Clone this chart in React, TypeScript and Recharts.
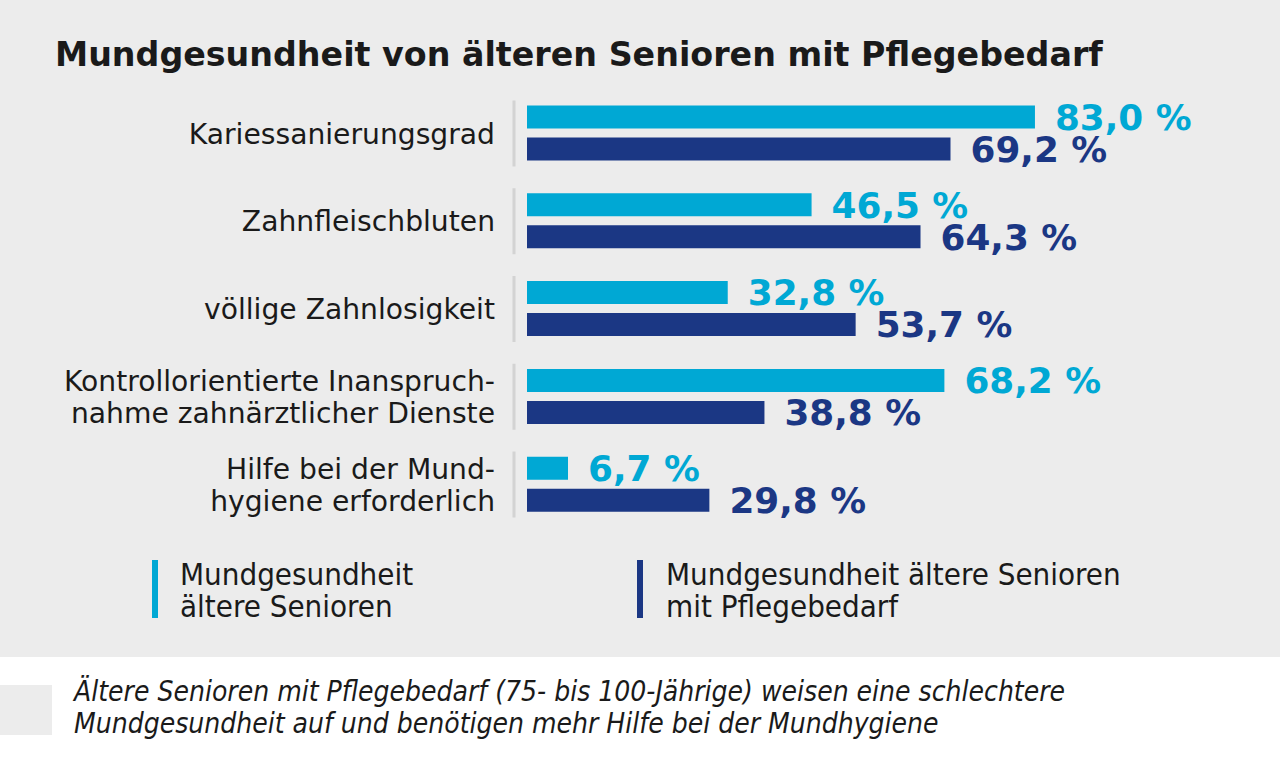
import React from 'react';
import { BarChart, Bar, XAxis, YAxis, LabelList } from 'recharts';

const categories: string[][] = [
    ['Kariessanierungsgrad'],
    ['Zahnfleischbluten'],
    ['völlige Zahnlosigkeit'],
    ['Kontrollorientierte Inanspruch-', 'nahme zahnärztlicher Dienste'],
    ['Hilfe bei der Mund-', 'hygiene erforderlich'],
];
const seniorValues = [83.0, 46.5, 32.8, 68.2, 6.7];
const careValues = [69.2, 64.3, 53.7, 38.8, 29.8];
const seriesNames = ['Mundgesundheit\nältere Senioren', 'Mundgesundheit ältere Senioren\nmit Pflegebedarf'];

const LIGHT = '#00a8d4';
const DARK = '#1b3784';
const FONT = '"DejaVu Sans", Verdana, sans-serif';
const COND = '"DejaVu Sans Condensed", "DejaVu Sans", sans-serif';

const data = categories.map((c, i) => ({
    key: String(i),
    senior: seniorValues[i],
    care: careValues[i],
}));

const fmt = (v: any) => Number(v).toFixed(1).replace('.', ',') + ' %';

const CategoryTick = ({ x, y, payload }: any) => {
    const lines = categories[Number(payload.value)];
    const lh = 32;
    const start = -((lines.length - 1) * lh) / 2;
    return (
        <g>
            <line x1={x + 19} x2={x + 19} y1={y - 33} y2={y + 33} stroke="#d3d3d3" strokeWidth={3} />
            <text x={x} y={y} textAnchor="end" fontFamily={FONT} fontSize={28.2} fill="#1a1a1a">
                {lines.map((l, i) => (
                    <tspan key={i} x={x} y={y + start + i * lh} dy="0.36em">{l}</tspan>
                ))}
            </text>
        </g>
    );
};

const App: React.FC = () => {
    return (
        <div style={{ position: 'absolute', left: 0, top: 0, width: 1280, height: 763, background: '#ffffff', overflow: 'hidden' }}>
            <div style={{ position: 'absolute', left: 0, top: 0, width: 1280, height: 657, background: '#ececec' }} />
            <div style={{ position: 'absolute', left: 55, top: 35, fontFamily: FONT, fontWeight: 'bold', fontSize: 33.3, color: '#1a1a1a', whiteSpace: 'nowrap', lineHeight: '40px' }}>
                Mundgesundheit von älteren Senioren mit Pflegebedarf
            </div>
            <div style={{ position: 'absolute', left: 0, top: 0 }}>
                <BarChart
                    width={1280}
                    height={640}
                    data={data}
                    layout="vertical"
                    margin={{ top: 89.6, right: 141, bottom: 640 - 528.4, left: 0 }}
                    barSize={23}
                    barGap={9}
                    barCategoryGap={0}
                >
                    <XAxis type="number" domain={[0, 100]} hide />
                    <YAxis
                        type="category"
                        dataKey="key"
                        width={527}
                        tickLine={false}
                        axisLine={false}
                        tickSize={0}
                        tickMargin={32}
                        tick={<CategoryTick />}
                        interval={0}
                    />
                    <Bar dataKey="senior" fill={LIGHT} isAnimationActive={false}>
                        <LabelList dataKey="senior" position="right" offset={20} formatter={fmt} fill={LIGHT} fontFamily={FONT} fontWeight="bold" fontSize={35.8} />
                    </Bar>
                    <Bar dataKey="care" fill={DARK} isAnimationActive={false}>
                        <LabelList dataKey="care" position="right" offset={20} formatter={fmt} fill={DARK} fontFamily={FONT} fontWeight="bold" fontSize={35.8} />
                    </Bar>
                </BarChart>
            </div>
            {seriesNames.map((name, i) => (
                <div key={i} style={{ position: 'absolute', left: i === 0 ? 152 : 637, top: 558 }}>
                    <div style={{ position: 'absolute', left: 0, top: 2, width: 6, height: 58, background: i === 0 ? LIGHT : DARK }} />
                    <div style={{ position: 'absolute', left: i === 0 ? 28 : 29, top: 0, fontFamily: COND, fontSize: 31, lineHeight: '32px', color: '#1a1a1a', whiteSpace: 'pre' }}>
                        {name}
                    </div>
                </div>
            ))}
            <div style={{ position: 'absolute', left: 0, top: 685, width: 52, height: 50, background: '#ececec' }} />
            <div style={{ position: 'absolute', left: 74, top: 676, fontFamily: COND, fontStyle: 'italic', fontSize: 28, lineHeight: '32px', color: '#1a1a1a', whiteSpace: 'nowrap' }}>
                Ältere Senioren mit Pflegebedarf (75- bis 100-Jährige) weisen eine schlechtere<br />
                Mundgesundheit auf und benötigen mehr Hilfe bei der Mundhygiene
            </div>
        </div>
    );
};

export default App;
